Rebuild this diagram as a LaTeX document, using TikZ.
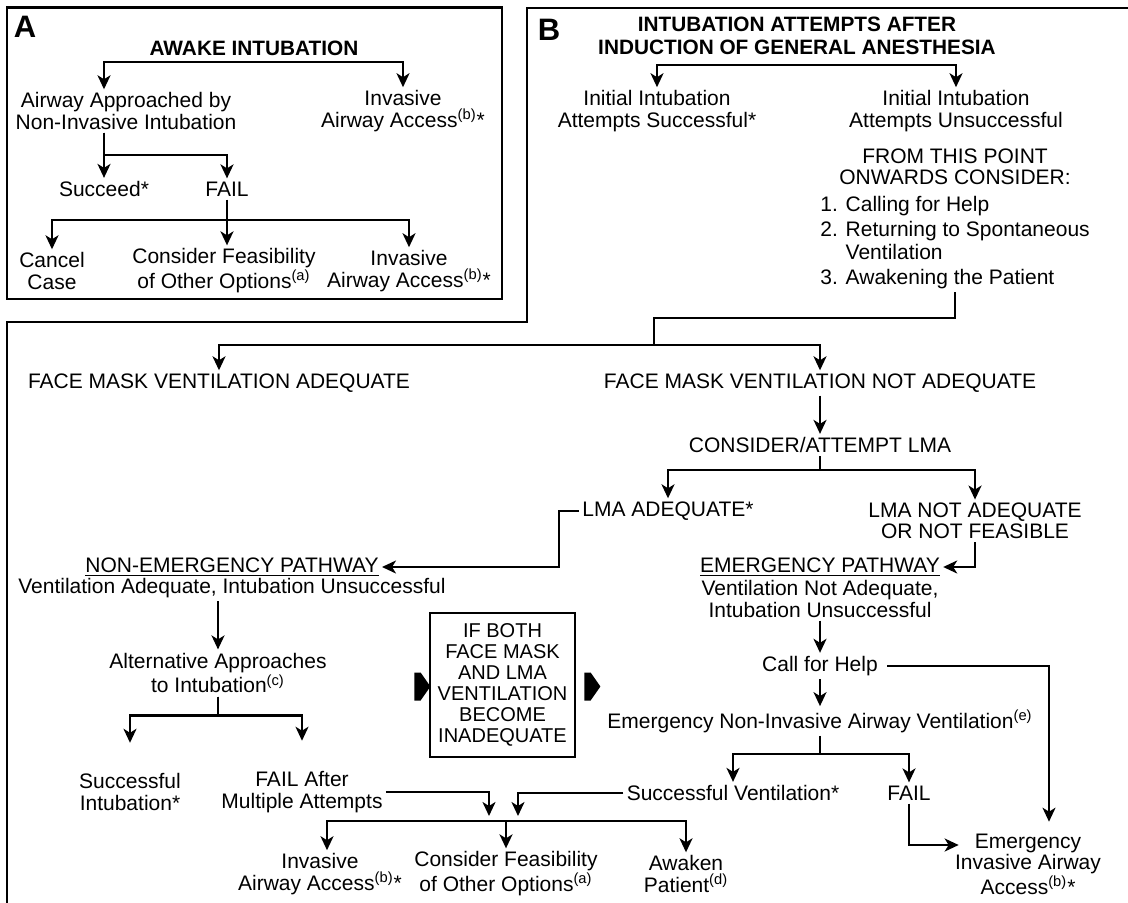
\documentclass[tikz,border=0pt]{standalone}
\usepackage{fontspec}
\setmainfont{Liberation Sans}
\usetikzlibrary{arrows.meta, shapes.symbols}
\newcommand{\supnote}[1]{\textsuperscript{#1}}

\begin{document}
\begin{tikzpicture}[
    x=0.5pt, y=-0.5pt,
    txt/.style={align=center, inner sep=1.5pt, font=\fontsize{10.5}{10.6}\selectfont},
    ttl/.style={align=center, inner sep=1.5pt, font=\bfseries\fontsize{10.4}{11.5}\selectfont},
    panel/.style={inner sep=0pt, font=\bfseries\fontsize{15.5}{15.5}\selectfont},
    frame/.style={line width=1.4pt},
    arrow/.style={->, >={Stealth[length=7pt, width=6.5pt, inset=2pt]}, line width=1.1pt},
    box/.style={rectangle, draw, line width=1.35pt, align=center, minimum width=72.5pt, minimum height=72pt, font=\fontsize{10}{10.5}\selectfont},
    pointer/.style={signal, signal to=east, signal pointer angle=110, fill=black, inner sep=0pt, minimum width=8pt, minimum height=14pt}
]
\useasboundingbox (0,0) rectangle (1128,903);

\draw[frame] (7,7.5) rectangle (502,299);
\draw[frame] (1128,8) -- (527,8) -- (527,322) -- (7,322) -- (7,903);

% panel A
\node[panel] (labA) at (25,27) {A};
\node[ttl] (awake) at (254,48) {AWAKE INTUBATION};
\node[txt] (nonInv) at (126,111) {Airway Approached by\\Non-Invasive Intubation};
\node[txt] (invA1) at (403,111) {Invasive\\Airway Access\supnote{(b)}*};
\node[txt] (succ) at (104,189) {Succeed*};
\node[txt] (failA) at (227,189) {FAIL};
\node[txt] (cancel) at (52,271) {Cancel\\Case};
\node[txt] (feasA) at (224,271) {Consider Feasibility\\of Other Options\supnote{(a)}};
\node[txt] (invA2) at (409,271) {Invasive\\Airway Access\supnote{(b)}*};

\draw[arrow, <->] (nonInv.north -| succ) |- ([yshift=-1.75pt]awake.south) -| (invA1.north);
\draw[arrow] (nonInv.south -| succ) -- (succ.north);
\draw[arrow] (nonInv.south -| succ) -- ++(0,22) -| (failA.north);
\draw[arrow] (failA.south) -- (failA.south |- feasA.north);
\draw[arrow, <->] (cancel.north) |- ([yshift=-10.25pt]failA.south) -| (invA2.north);

% panel B
\node[panel] (labB) at (549,30) {B};
\node[ttl] (intub) at (797,36) {INTUBATION ATTEMPTS AFTER\\INDUCTION OF GENERAL ANESTHESIA};
\node[txt] (initS) at (657,111) {Initial Intubation\\Attempts Successful*};
\node[txt] (initU) at (956,111) {Initial Intubation\\Attempts Unsuccessful};
\node[txt] (from) at (955,167) {FROM THIS POINT\\ONWARDS CONSIDER:};
\node[txt, align=left, anchor=north west, font=\fontsize{10.5}{11.5}\selectfont] (list) at (817,193)
    {1. Calling for Help\\[1pt]2. Returning to Spontaneous\\\phantom{2. }Ventilation\\[1pt]3. Awakening the Patient};

\draw[arrow, <->] (initS.north) |- ([yshift=-3.25pt]intub.south) -| (initU.north);

\coordinate (fork) at (654,345);
\node[txt] (fmA) at (219,383) {FACE MASK VENTILATION ADEQUATE};
\node[txt] (fmN) at (820,383) {FACE MASK VENTILATION NOT ADEQUATE};
\draw[line width=1.1pt] (list.south) |- ([yshift=13.5pt]fork) -- (fork);
\draw[arrow, <->] (fmA.north) |- (fork) -| (fmN.north);

\node[txt] (lmaTry) at (820,445) {CONSIDER/ATTEMPT LMA};
\draw[arrow] (fmN.south) -- (lmaTry.north);
\node[txt] (lmaOk) at (668,511) {LMA ADEQUATE*};
\node[txt] (lmaNo) at (975,521) {LMA NOT ADEQUATE\\OR NOT FEASIBLE};
\draw[arrow] (lmaTry.south) -- ++(0,14) -| (lmaOk.north);
\draw[arrow] (lmaTry.south) -- ++(0,14) -| (lmaNo.north);

\node[txt] (nonEm) at (232,567) {\underline{NON-EMERGENCY PATHWAY}};
\node[txt] (venA) at (232,588) {Ventilation Adequate, Intubation Unsuccessful};
\draw[arrow] (lmaOk.west) -- ++(-20,0) |- (nonEm.east);

\node[txt] (emer) at (820,567) {\underline{EMERGENCY PATHWAY}};
\node[txt] (venN) at (820,599) {Ventilation Not Adequate,\\Intubation Unsuccessful};
\draw[arrow] (lmaNo.south) |- (emer.east);

% non-emergency side
\node[txt] (alt) at (218,673) {Alternative Approaches\\to Intubation\supnote{(c)}};
\draw[arrow] (venA.south -| alt) -- (alt.north);
\node[txt] (succI) at (130,792) {Successful\\Intubation*};
\node[txt] (failM) at (302,792) {FAIL After\\Multiple Attempts};
\draw[arrow] (alt.south) -- ++(0,19) -| ([yshift=13.75pt]succI.north);
\draw[arrow] (alt.south) -- ++(0,19) -| ([yshift=13.75pt]failM.north);

\node[box] (both) at (502.5,685) {IF BOTH\\FACE MASK\\AND LMA\\VENTILATION\\BECOME\\INADEQUATE};
\node[pointer] (ptrL) at (417.5,686.5) {};
\node[pointer] (ptrR) at (587.5,686.5) {};

% emergency side
\node[txt] (help) at (820,666) {Call for Help};
\draw[arrow] (venN.south) -- (help.north);
\node[txt] (emNi) at (820,721) {Emergency Non-Invasive Airway Ventilation\supnote{(e)}};
\draw[arrow] (help.south) -- (emNi.north);
\node[txt] (emIn) at (1028,864) {Emergency\\Invasive Airway\\Access\supnote{(b)}*};
\draw[arrow] ([xshift=3pt]help.east) -| ([xshift=10.5pt, yshift=4.25pt]emIn.north);
\node[txt] (succV) at (733,793) {Successful Ventilation*};
\node[txt] (failE) at (909,793) {FAIL};
\draw[arrow] (emNi.south) -- ++(0,18) -| (succV.north);
\draw[arrow] (emNi.south) -- ++(0,18) -| (failE.north);
\draw[arrow] (failE.south) |- ([xshift=3.5pt, yshift=9.5pt]emIn.west);

% common end points
\coordinate (hub) at (506,821);
\node[txt] (invB) at (320,874) {Invasive\\Airway Access\supnote{(b)}*};
\node[txt] (feasB) at (506,874) {Consider Feasibility\\of Other Options\supnote{(a)}};
\node[txt] (awk) at (686,874) {Awaken\\Patient\supnote{(d)}};
\draw[arrow] (succV.west) -| ([xshift=6pt, yshift=2.5pt]hub);
\draw[arrow] (failM.east) -| ([xshift=-8.5pt, yshift=2.5pt]hub);
\draw[arrow, <->] ([xshift=3.5pt]invB.north) |- (hub) -| (awk.north);
\draw[arrow] (hub) -- (hub |- feasB.north);

\end{tikzpicture}
\end{document}
